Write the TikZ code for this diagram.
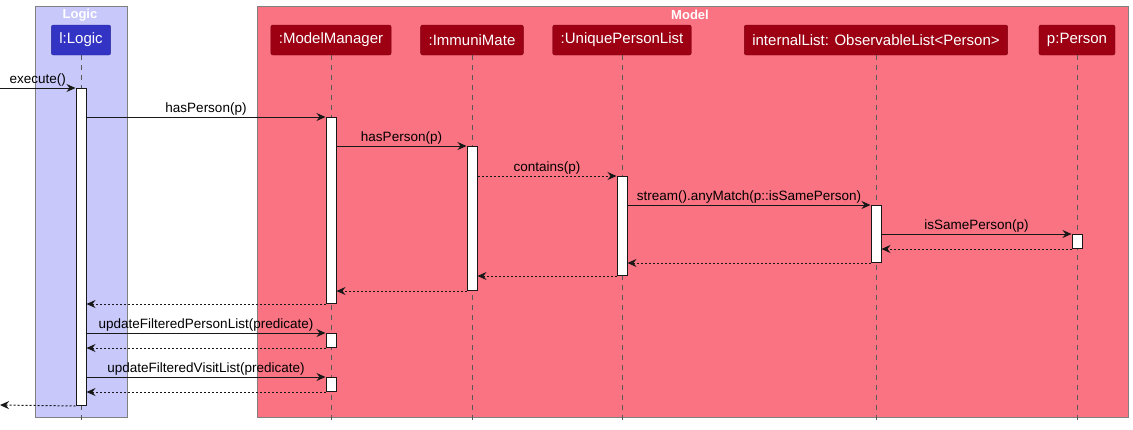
\documentclass[tikz,border=0pt]{standalone}
\usepackage{fontspec}
\setmainfont{Liberation Sans}
\usepackage{xcolor}
\usepackage{tikz}
\usetikzlibrary{arrows.meta,positioning,calc}

\definecolor{logicbg}{HTML}{C8C8FA}
\definecolor{logicfg}{HTML}{3333C4}
\definecolor{modelbg}{HTML}{FA7382}
\definecolor{modelfg}{HTML}{9D0012}
\definecolor{lineclr}{HTML}{181818}

\begin{document}
\begin{tikzpicture}[x=1pt, y=-1pt,
  groupbox/.style={draw=gray, line width=1pt},
  grouptitle/.style={font=\fontsize{13}{15}\selectfont\bfseries, text=white},
  participant/.style={rounded corners=2pt, draw=#1!80!black, fill=#1, text=white, minimum height=30pt, inner xsep=8pt, font=\fontsize{15}{18}\selectfont},
  lifeline/.style={dash pattern=on 5pt off 5pt, draw=black!65, line width=0.8pt},
  act/.style={draw=lineclr, fill=white, line width=1pt, minimum width=10pt, inner sep=0pt, anchor=north},
  call/.style={-{Stealth[length=9pt,width=8pt,inset=3pt]}, draw=lineclr, line width=1pt},
  ret/.style={call, dash pattern=on 2pt off 2pt},
  msg/.style={font=\fontsize{13.5}{16}\selectfont, above, inner sep=1.5pt, text=black}]

\useasboundingbox (0,0) rectangle (1133,429);

% Groups (boxes)
\draw[groupbox, fill=logicbg] (35,6) rectangle (127,417);
\node[grouptitle] (logicTitle) at (80,15) {Logic};
\draw[groupbox, fill=modelbg] (257,6) rectangle (1128,417);
\node[grouptitle] (modelTitle) at (690,15) {Model};

% Participants
\node[participant=logicfg] (logic) at (81,40) {l:Logic};
\node[participant=modelfg] (mm) at (331,40) {:ModelManager};
\node[participant=modelfg] (immuni) at (472,40) {:ImmuniMate};
\node[participant=modelfg] (upl) at (622,40) {:UniquePersonList};
\node[participant=modelfg] (ilist) at (876,40) {internalList: ObservableList<Person>};
\node[participant=modelfg] (person) at (1077,40) {p:Person};

% Lifelines
\coordinate (bottom) at (0,422);
\foreach \p in {logic,mm,immuni,upl,ilist,person}
  \draw[lifeline] (\p.south) -- (\p.south |- bottom);

% Activation bars
\node[act, minimum height=317pt] (logicAct) at (81,88) {};
\node[act, minimum height=186pt] (mmAct1) at (331,117) {};
\node[act, minimum height=144pt] (immuniAct) at (472,146) {};
\node[act, minimum height=99pt] (uplAct) at (622,176) {};
\node[act, minimum height=57pt] (ilistAct) at (876,205) {};
\node[act, minimum height=14pt] (personAct) at (1077,234) {};
\node[act, minimum height=14pt] (mmAct2) at (331,333) {};
\node[act, minimum height=14pt] (mmAct3) at (331,377) {};

% Calls
\coordinate (start) at (0,88);
\draw[call] (start) -- node[msg] {execute()} (logicAct.north west);
\draw[call] (logicAct.east |- mmAct1.north) -- node[msg] {hasPerson(p)} (mmAct1.north west);
\draw[call] (mmAct1.east |- immuniAct.north) -- node[msg] {hasPerson(p)} (immuniAct.north west);
\draw[ret] (immuniAct.east |- uplAct.north) -- node[msg] {contains(p)} (uplAct.north west);
\draw[call] (uplAct.east |- ilistAct.north) -- node[msg] {stream().anyMatch(p::isSamePerson)} (ilistAct.north west);
\draw[call] (ilistAct.east |- personAct.north) -- node[msg] {isSamePerson(p)} (personAct.north west);

% Returns
\draw[ret] (personAct.south west) -- (ilistAct.east |- personAct.south);
\draw[ret] (ilistAct.south west) -- (uplAct.east |- ilistAct.south);
\draw[ret] (uplAct.south west) -- (immuniAct.east |- uplAct.south);
\draw[ret] (immuniAct.south west) -- (mmAct1.east |- immuniAct.south);
\draw[ret] (mmAct1.south west) -- (logicAct.east |- mmAct1.south);

% Filter updates
\draw[call] (logicAct.east |- mmAct2.north) -- node[msg] {updateFilteredPersonList(predicate)} (mmAct2.north west);
\draw[ret] (mmAct2.south west) -- (logicAct.east |- mmAct2.south);
\draw[call] (logicAct.east |- mmAct3.north) -- node[msg] {updateFilteredVisitList(predicate)} (mmAct3.north west);
\draw[ret] (mmAct3.south west) -- (logicAct.east |- mmAct3.south);

% Back to caller
\coordinate (finish) at (0,405);
\draw[ret] (logicAct.south west) -- (finish);

\end{tikzpicture}
\end{document}
